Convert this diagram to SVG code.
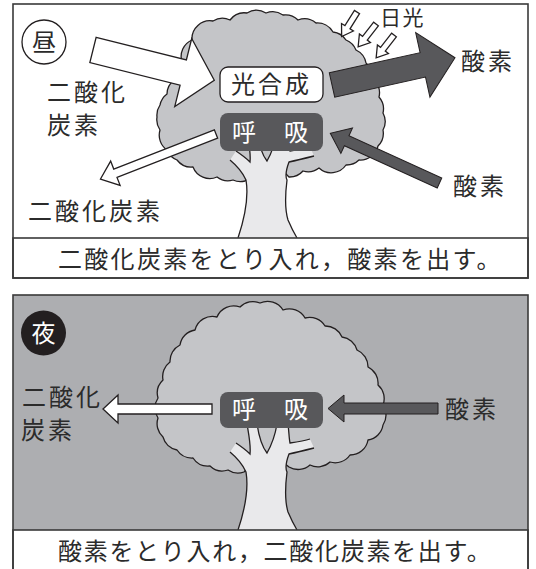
<svg xmlns="http://www.w3.org/2000/svg" xmlns:xlink="http://www.w3.org/1999/xlink" width="536" height="569" viewBox="0 0 536 569">
  <style>
    .t{font-family:"Noto Sans CJK JP","Noto Sans CJK SC",sans-serif;font-size:24px;fill:#2b2b2b;letter-spacing:3px}
    .cap{letter-spacing:2.3px}
    .wt{fill:#ffffff}
    .canopy{fill:#c4c5c8;stroke:#231f20;stroke-width:1.3;stroke-linejoin:round}
    .trunk-fill{fill:#e9e9eb}
    .edge{fill:none;stroke:#231f20;stroke-width:1.3}
    .dark{fill:#58585b;stroke:#231f20;stroke-width:1}
    .hollow{fill:#ffffff;stroke:#231f20;stroke-width:1.3;stroke-linejoin:miter}
    .frame{fill:none;stroke:#3a3a3a;stroke-width:1.6}
    .band{fill:#ffffff;stroke:#3a3a3a;stroke-width:1.6}
  </style>
  <defs>
    <!-- tree trunk with three branch stubs, drawn for the lower tree -->
    <g id="trunk">
      <path class="trunk-fill" d="M238,530 C244,512 249,490 246,472 C242,463 236,457 230,452 L236,443 C242,447 247,451 250,454 C251,445 249,436 247,424 L257,424 C259,437 263,448 267,453 C271,446 275,436 277,424 L288,424 C289,432 289,438 290,443 C297,442 304,441 310,439 L314,448 C306,450 298,452 289,454 C286,462 285,468 287,472 C285,488 285,502 288,512 C291,519 294,525 297,530 Z"/>
      <path class="edge" d="M238,530 C244,512 249,490 246,472 C242,463 236,457 230,452 M236,443 C242,447 247,451 250,454 C251,445 249,436 247,424 M257,424 C259,437 263,448 267,453 C271,446 275,436 277,424 M288,424 C289,432 289,438 290,443 C297,442 304,441 310,439 M314,448 C306,450 298,452 289,454 C286,462 285,468 287,472 C285,488 285,502 288,512 C291,519 294,525 297,530"/>
    </g>
    <!-- small hollow sunlight arrow, pointing along +x -->
    <path id="ray" class="hollow" d="M0,-3 L18,-3 L18,-7 L29,0 L18,7 L18,3 L0,3 Z"/>
  </defs>

  <!-- ===== daytime panel ===== -->
  <g id="day-scene">
    <rect x="13" y="4" width="515" height="274" fill="#ffffff"/>
    <path class="canopy" d="M192,40 A18,18 0 0 1 213,21 A18,18 0 0 1 230,20 A18,18 0 0 1 247,13 A18,18 0 0 1 266,13 A18,18 0 0 1 283,15 A18,18 0 0 1 298,20 A18,18 0 0 1 316,23 A18,18 0 0 1 333,32 A18,18 0 0 1 346,40 A18,18 0 0 1 356,50 A18,18 0 0 1 366,63 A18,18 0 0 1 372,78 A18,18 0 0 1 379,97 A18,18 0 0 1 383,113 A18,18 0 0 1 383,130 A18,18 0 0 1 378,146 A18,18 0 0 1 359,160 A18,18 0 0 1 346,165 A18,18 0 0 1 319,168 A18,18 0 0 1 303,171 A18,18 0 0 1 289,177 L280,168 L255,168 L245,181 A18,18 0 0 1 233,180 A18,18 0 0 1 217,177 A18,18 0 0 1 193,167 A18,18 0 0 1 177,160 A18,18 0 0 1 167,150 A18,18 0 0 1 160,130 A18,18 0 0 1 157,117 A18,18 0 0 1 160,105 A18,18 0 0 1 167,94 A18,18 0 0 1 174,80 A18,18 0 0 1 182,62 A18,18 0 0 1 192,40 Z"/>
    <use xlink:href="#trunk" href="#trunk" transform="translate(0,-292)"/>
    <rect class="band" x="13" y="238" width="515" height="40"/>
    <rect class="frame" x="13" y="4" width="515" height="274"/>
  </g>

  <!-- ===== night panel ===== -->
  <g id="night-scene">
    <rect x="13" y="295" width="515" height="280" fill="#adaeb1"/>
    <path class="canopy" d="M217,317 A18,18 0 0 1 240,307 A18,18 0 0 1 260,303 A18,18 0 0 1 283,310 A18,18 0 0 1 305,318 A18,18 0 0 1 325,326 A18,18 0 0 1 342,337 A18,18 0 0 1 357,350 A18,18 0 0 1 368,367 A18,18 0 0 1 378,385 A18,18 0 0 1 383,405 A18,18 0 0 1 383,425 A18,18 0 0 1 368,440 A18,18 0 0 1 350,455 A18,18 0 0 1 330,462 A18,18 0 0 1 310,465 A18,18 0 0 1 289,467 L280,460 L255,460 L244,472 A18,18 0 0 1 228,470 A18,18 0 0 1 210,466 A18,18 0 0 1 193,458 A18,18 0 0 1 177,450 A18,18 0 0 1 163,437 A18,18 0 0 1 158,418 A18,18 0 0 1 158,398 A18,18 0 0 1 163,380 A18,18 0 0 1 170,362 A18,18 0 0 1 180,345 A18,18 0 0 1 195,330 A18,18 0 0 1 217,317 Z"/>
    <use xlink:href="#trunk" href="#trunk"/>
    <rect class="band" x="13" y="530" width="515" height="45"/>
    <rect class="frame" x="13" y="295" width="515" height="280"/>
  </g>

  <!-- ===== connectors ===== -->
  <g id="connectors">
    <!-- daytime: CO2 taken in -->
    <path class="hollow" transform="translate(93,50) rotate(14)" d="M0,-13 L93,-13 L93,-35 L125,0 L93,35 L93,13 L0,13 Z"/>
    <!-- daytime: O2 given off -->
    <path class="dark" transform="translate(332,85) rotate(-12.5)" d="M0,-12.5 L93,-12.5 L93,-33 L126,0 L93,33 L93,12.5 L0,12.5 Z"/>
    <!-- daytime: O2 taken in for respiration -->
    <path class="dark" transform="translate(439.5,183) rotate(204.5)" d="M0,-5.5 L102,-5.5 L102,-14 L120,0 L102,14 L102,5.5 L0,5.5 Z"/>
    <!-- daytime: CO2 given off by respiration -->
    <path class="hollow" transform="translate(216,134) rotate(158.7)" d="M0,-4.5 L108,-4.5 L108,-13 L124,0 L108,13 L108,4.5 L0,4.5 Z"/>
    <!-- sunlight rays -->
    <use xlink:href="#ray" href="#ray" transform="translate(357,12) rotate(122)"/>
    <use xlink:href="#ray" href="#ray" transform="translate(376,24) rotate(128)"/>
    <use xlink:href="#ray" href="#ray" transform="translate(394,35) rotate(128)"/>
    <!-- night: CO2 given off -->
    <path class="hollow" d="M212,404 L118,404 L118,395 L103,409 L118,423 L118,414 L212,414 Z"/>
    <!-- night: O2 taken in -->
    <path class="dark" d="M438,403 L344,403 L344,395 L328,408.5 L344,422 L344,414 L438,414 Z"/>
  </g>

  <!-- ===== nodes ===== -->
  <g id="badge-day">
    <circle cx="44" cy="42" r="22" fill="#ffffff" stroke="#231f20" stroke-width="1.3"/>
    <text class="t" x="44" y="51" text-anchor="middle" style="letter-spacing:0">昼</text>
  </g>
  <g id="photosynthesis">
    <rect x="220" y="67" width="103" height="35" rx="8" fill="#ffffff" stroke="#231f20" stroke-width="1.3"/>
    <text class="t" x="231" y="93">光合成</text>
  </g>
  <g id="respiration-day">
    <rect x="220" y="113" width="103" height="38" rx="8" fill="#58585b"/>
    <text class="t wt" x="232" y="141">呼</text>
    <text class="t wt" x="284" y="141">吸</text>
  </g>
  <g id="label-co2-in-day">
    <text class="t" x="47" y="101">二酸化</text>
    <text class="t" x="47" y="134">炭素</text>
  </g>
  <g id="label-co2-out-day">
    <text class="t" x="28" y="220">二酸化炭素</text>
  </g>
  <g id="label-o2-out-day">
    <text class="t" x="461" y="70">酸素</text>
  </g>
  <g id="label-o2-in-day">
    <text class="t" x="453" y="195">酸素</text>
  </g>
  <g id="label-sunlight">
    <text class="t" x="380" y="25" style="font-size:21px;letter-spacing:1.5px">日光</text>
  </g>
  <g id="caption-day">
    <text class="t cap" x="58" y="268">二酸化炭素をとり入れ，酸素を出す。</text>
  </g>

  <g id="badge-night">
    <circle cx="43.5" cy="333" r="22.5" fill="#231f20"/>
    <text class="t wt" x="43.5" y="342" text-anchor="middle" style="letter-spacing:0">夜</text>
  </g>
  <g id="respiration-night">
    <rect x="220" y="392" width="103" height="36" rx="8" fill="#58585b"/>
    <text class="t wt" x="232" y="418">呼</text>
    <text class="t wt" x="284" y="418">吸</text>
  </g>
  <g id="label-co2-out-night">
    <text class="t" x="22" y="406">二酸化</text>
    <text class="t" x="21" y="439">炭素</text>
  </g>
  <g id="label-o2-in-night">
    <text class="t" x="445" y="418">酸素</text>
  </g>
  <g id="caption-night">
    <text class="t cap" x="58" y="560" style="letter-spacing:1.7px">酸素をとり入れ，二酸化炭素を出す。</text>
  </g>
</svg>
